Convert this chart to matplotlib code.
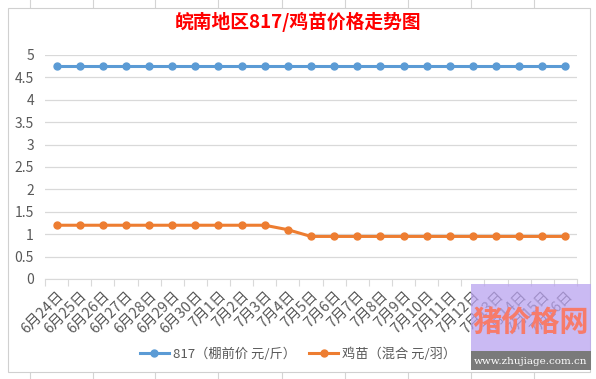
import matplotlib.pyplot as plt
from matplotlib.lines import Line2D
from matplotlib.patches import Rectangle

plt.rcParams['font.family'] = ['Noto Sans CJK SC', 'DejaVu Sans']

dates = ['6月24日', '6月25日', '6月26日', '6月27日', '6月28日', '6月29日', '6月30日',
         '7月1日', '7月2日', '7月3日', '7月4日', '7月5日', '7月6日', '7月7日', '7月8日',
         '7月9日', '7月10日', '7月11日', '7月12日', '7月13日', '7月14日', '7月15日', '7月16日']
price_817 = [4.75] * 23
price_chick = [1.2] * 10 + [1.1] + [0.95] * 12
series_names = ['817（棚前价 元/斤）', '鸡苗（混合 元/羽）']

blue = '#5b9bd5'
orange = '#ed7d31'

fig = plt.figure(figsize=(5.96, 3.79), dpi=100)
W, H = 596, 379

# spreadsheet grid behind the chart
for x in [30, 93, 155, 218, 282, 345, 408, 471, 534]:
    fig.add_artist(Line2D([x / W, x / W], [0, 1], color='#d4d4d4', lw=0.8, zorder=0))
fig.add_artist(Rectangle((8 / W, 7 / H), 582 / W, 364 / H, facecolor='white',
                         edgecolor='#d0d0d0', lw=0.8, zorder=1))

ax = fig.add_axes([45 / W, (H - 279) / H, 532 / W, 224 / H])
ax.set_zorder(2)
ax.patch.set_alpha(0)
x = range(len(dates))
ax.plot(x, price_817, color=blue, lw=2.2, marker='o', ms=5, label=series_names[0])
ax.plot(x, price_chick, color=orange, lw=2.2, marker='o', ms=5, label=series_names[1])

ax.set_xlim(-0.5, len(dates) - 0.5)
ax.set_ylim(0, 5)
ax.set_yticks([0, 0.5, 1, 1.5, 2, 2.5, 3, 3.5, 4, 4.5, 5])
ax.set_yticklabels(['0', '0.5', '1', '1.5', '2', '2.5', '3', '3.5', '4', '4.5', '5'])
ax.grid(axis='y', color='#d9d9d9', lw=0.9)
ax.set_axisbelow(True)
for s in ['top', 'right', 'left']:
    ax.spines[s].set_visible(False)
ax.spines['bottom'].set_color('#d9d9d9')
ax.tick_params(axis='y', length=0, labelsize=10, colors='#595959', pad=8)
ax.set_xticks([i - 0.5 for i in range(len(dates) + 1)], minor=False)
ax.set_xticklabels([''] * (len(dates) + 1))
ax.tick_params(axis='x', which='major', length=5, color='#d9d9d9')
ax.set_xticks(list(x), minor=True)
ax.set_xticklabels(dates, minor=True, rotation=45, ha='right', rotation_mode='anchor')
ax.tick_params(axis='x', which='minor', length=0, labelsize=10.5, colors='#595959', pad=7)

fig.text(0.5, (H - 22) / H, '皖南地区817/鸡苗价格走势图', ha='center', va='center',
         color='#ff0000', fontsize=13.5, fontweight='bold')

leg = fig.legend(loc='center', bbox_to_anchor=(0.5, (H - 354) / H), ncol=2,
                 frameon=False, fontsize=9.5, handlelength=2.2, columnspacing=1.0,
                 handletextpad=0.3)
for t in leg.get_texts():
    t.set_color('#595959')

# watermark box
fig.add_artist(Rectangle((471 / W, 9 / H), 120 / W, 86 / H, facecolor='#b9a3ef',
                         edgecolor='none', alpha=0.75, zorder=5))
fig.add_artist(Rectangle((471 / W, 9 / H), 120 / W, 19 / H, facecolor='#7a7a7a',
                         edgecolor='none', zorder=6))
fig.text(531 / W, 57 / H, '猪价格网', ha='center', va='center', color='#f77b6a',
         fontsize=21, fontweight='bold', zorder=7)
fig.text(531 / W, 18 / H, 'www.zhujiage.com.cn', ha='center', va='center',
         color='white', fontsize=7.5, family='DejaVu Serif', zorder=7)

fig.savefig('out.png', dpi=100)
